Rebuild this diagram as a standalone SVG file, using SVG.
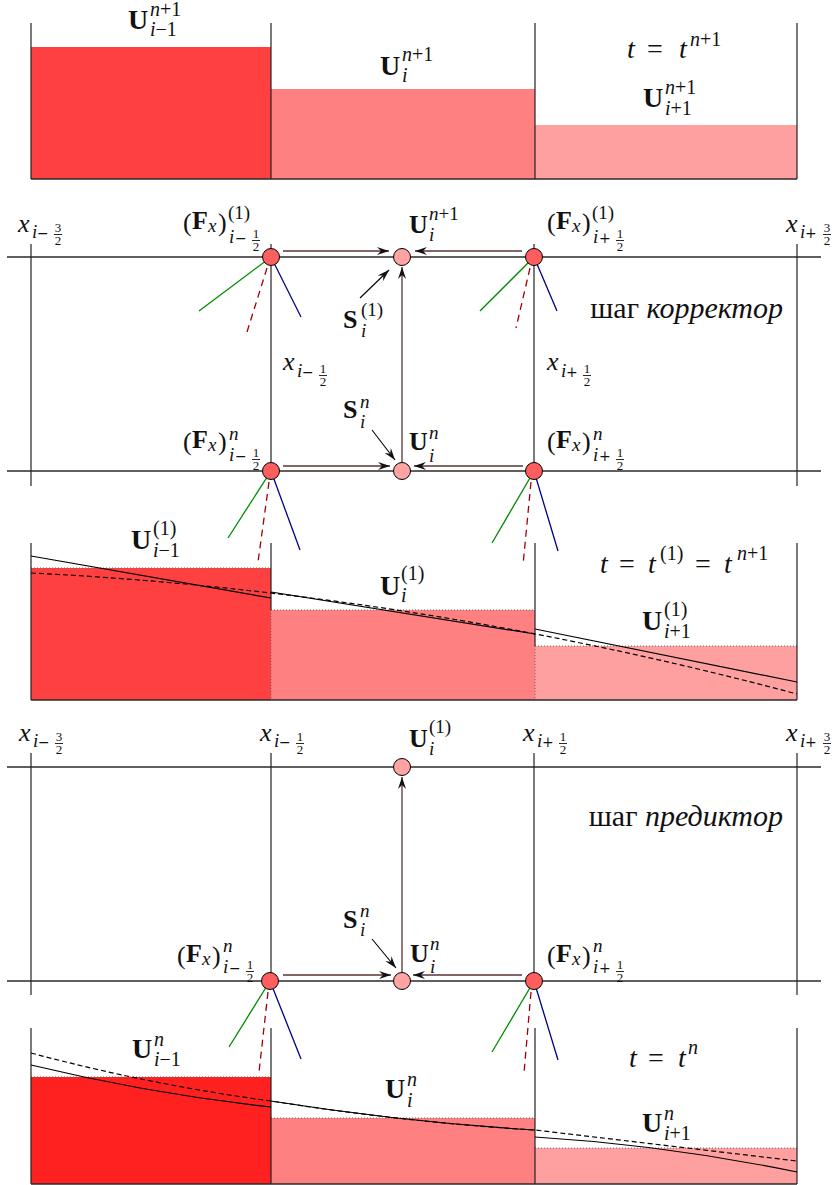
<svg xmlns="http://www.w3.org/2000/svg" width="836" height="1185" viewBox="0 0 836 1185">
<defs>
<style>
.bg{fill:#fff}
.ax{stroke:#2a2a2a;stroke-width:1.3;fill:none}
.vl{stroke:#222;stroke-width:1.2;fill:none}
.dt{stroke:#666;stroke-width:1;stroke-dasharray:1,2;fill:none}
.c1{fill:#ff4040}.c1b{fill:#ff2020}.c2{fill:#ff8080}.c3{fill:#ffa0a0}
.cur{stroke:#000;stroke-width:1.2;fill:none}
.cud{stroke:#000;stroke-width:1.2;fill:none;stroke-dasharray:5,3}
.fg{stroke:#008a00;stroke-width:1.3}
.fr{stroke:#a00000;stroke-width:1.3;stroke-dasharray:7,5}
.fb{stroke:#00008a;stroke-width:1.3}
.nf{fill:#ff5e5e;stroke:#000;stroke-width:1}
.nu{fill:#ffa3a3;stroke:#000;stroke-width:1}
.ar{stroke:#5a3434;stroke-width:1.3;fill:none}
.ak{stroke:#000;stroke-width:1.1;fill:none}
.m{font-family:"Liberation Serif",serif;font-size:26px;fill:#111}
.L{font-size:28px}
.s{font-size:19px}
.Ls{font-size:20px}
.f{font-size:13px}
.o{font-family:"DejaVu Serif",serif;font-size:14px}
.i{font-style:italic}
.b{font-weight:bold}
.cy{font-size:30px}
.fl{stroke:#111;stroke-width:0.9}
</style>
<marker id="hb" viewBox="0 0 12 8" refX="12" refY="4" markerWidth="12" markerHeight="8" markerUnits="userSpaceOnUse" orient="auto"><path d="M0,0 L12,4 L0,8 L4,4 z" fill="#111"/></marker>
</defs>
<rect class="bg" x="0" y="0" width="836" height="1185"/>

<!-- ===== Top panel t = t^{n+1} ===== -->
<g id="panel-top">
<rect class="c1" x="31" y="47" width="240" height="132"/>
<rect class="c2" x="271" y="89" width="264" height="90"/>
<rect class="c3" x="535" y="125" width="262" height="54"/>
<line class="vl" x1="31" y1="23" x2="31" y2="179"/>
<line class="vl" x1="271" y1="23" x2="271" y2="179"/>
<line class="vl" x1="535" y1="23" x2="535" y2="179"/>
<line class="vl" x1="797" y1="23" x2="797" y2="179"/>
<line class="ax" x1="31" y1="179" x2="797" y2="179"/>
<text class="m L b" x="128" y="29">U</text>
<text class="m Ls" x="150" y="16"><tspan class="i">n</tspan>+1</text>
<text class="m Ls" x="150" y="36"><tspan class="i">i</tspan>−1</text>
<text class="m L b" x="380" y="75">U</text>
<text class="m Ls" x="402" y="61"><tspan class="i">n</tspan>+1</text>
<text class="m Ls i" x="402" y="82">i</text>
<text class="m L i" x="627" y="58">t</text>
<text class="m L" x="647" y="58">=</text>
<text class="m L i" x="679" y="58">t</text>
<text class="m Ls" x="690" y="46"><tspan class="i">n</tspan>+1</text>
<text class="m L b" x="643" y="107">U</text>
<text class="m Ls" x="665" y="94"><tspan class="i">n</tspan>+1</text>
<text class="m Ls" x="665" y="115"><tspan class="i">i</tspan>+1</text>
</g>

<!-- ===== Corrector scheme ===== -->
<g id="grid-corrector">
<line class="ax" x1="7" y1="257" x2="821" y2="257"/>
<line class="ax" x1="7" y1="471" x2="821" y2="471"/>
<line class="vl" x1="31" y1="244" x2="31" y2="486"/>
<line class="vl" x1="797" y1="244" x2="797" y2="486"/>
<line class="vl" x1="271" y1="244" x2="271" y2="471"/>
<line class="vl" x1="534" y1="244" x2="534" y2="471"/>
<text class="m i" x="18" y="232">x</text>
<text class="m s i" x="32" y="238">i</text>
<text class="m o" x="37" y="238">−</text>
<text class="m f" x="58" y="232" text-anchor="middle">3</text>
<line class="fl" x1="54" y1="234.5" x2="62" y2="234.5"/>
<text class="m f" x="58" y="245" text-anchor="middle">2</text>
<text class="m i" x="786" y="232">x</text>
<text class="m s i" x="800" y="238">i</text>
<text class="m o" x="805" y="238">+</text>
<text class="m f" x="827" y="232" text-anchor="middle">3</text>
<line class="fl" x1="823" y1="234.5" x2="831" y2="234.5"/>
<text class="m f" x="827" y="245" text-anchor="middle">2</text>
<text class="m i" x="283" y="370">x</text>
<text class="m s i" x="297" y="377">i</text>
<text class="m o" x="302" y="377">−</text>
<text class="m f" x="323" y="373" text-anchor="middle">1</text>
<line class="fl" x1="319" y1="375.5" x2="327" y2="375.5"/>
<text class="m f" x="323" y="386" text-anchor="middle">2</text>
<text class="m i" x="547" y="370">x</text>
<text class="m s i" x="561" y="377">i</text>
<text class="m o" x="566" y="377">+</text>
<text class="m f" x="587" y="373" text-anchor="middle">1</text>
<line class="fl" x1="583" y1="375.5" x2="591" y2="375.5"/>
<text class="m f" x="587" y="386" text-anchor="middle">2</text>
<text class="m cy" x="783" y="318" text-anchor="end">шаг <tspan class="i">корректор</tspan></text>
</g>

<g id="fans-corrector">
<line class="fg" x1="271" y1="257" x2="199" y2="311"/>
<line class="fr" x1="267" y1="268" x2="247" y2="332"/>
<line class="fb" x1="271" y1="257" x2="301" y2="317"/>
<line class="fg" x1="534" y1="257" x2="480" y2="311"/>
<line class="fr" x1="530" y1="268" x2="516" y2="328"/>
<line class="fb" x1="534" y1="257" x2="557" y2="311"/>
<line class="fg" x1="271" y1="471" x2="228" y2="538"/>
<line class="fr" x1="269" y1="482" x2="258" y2="562"/>
<line class="fb" x1="271" y1="471" x2="300" y2="550"/>
<line class="fg" x1="534" y1="471" x2="492" y2="543"/>
<line class="fr" x1="531" y1="482" x2="523" y2="565"/>
<line class="fb" x1="534" y1="471" x2="558" y2="551"/>
</g>

<g id="connectors">
<line class="ar" x1="283" y1="251" x2="389" y2="251" marker-end="url(#hb)"/>
<line class="ar" x1="522" y1="251" x2="415" y2="251" marker-end="url(#hb)"/>
<line class="ar" x1="402" y1="462" x2="402" y2="267" marker-end="url(#hb)"/>
<line class="ak" x1="360" y1="298" x2="389" y2="270" marker-end="url(#hb)"/>
<line class="ar" x1="283" y1="466" x2="390" y2="466" marker-end="url(#hb)"/>
<line class="ar" x1="523" y1="466" x2="414" y2="466" marker-end="url(#hb)"/>
<line class="ak" x1="372" y1="430" x2="395" y2="460" marker-end="url(#hb)"/>
<line class="ar" x1="402" y1="972" x2="402" y2="777" marker-end="url(#hb)"/>
<line class="ar" x1="283" y1="975" x2="391" y2="975" marker-end="url(#hb)"/>
<line class="ar" x1="522" y1="975" x2="413" y2="975" marker-end="url(#hb)"/>
<line class="ak" x1="372" y1="939" x2="396" y2="968" marker-end="url(#hb)"/>
</g>

<g id="node-F-left-1">
<circle class="nf" cx="271" cy="257" r="8.5"/>
<text class="m" x="183" y="231">(</text>
<text class="m b" x="192" y="229">F</text>
<text class="m s i" x="208" y="232">x</text>
<text class="m" x="218" y="231">)</text>
<text class="m s" x="228" y="219">(1)</text>
<text class="m s i" x="229" y="243">i</text>
<text class="m o" x="235" y="243">−</text>
<text class="m f" x="256" y="238" text-anchor="middle">1</text>
<line class="fl" x1="252" y1="240.5" x2="260" y2="240.5"/>
<text class="m f" x="256" y="251" text-anchor="middle">2</text>
</g>
<g id="node-U-1">
<circle class="nu" cx="402" cy="257" r="8.5"/>
<text class="m b" x="409" y="233">U</text>
<text class="m s" x="429" y="220"><tspan class="i">n</tspan>+1</text>
<text class="m s i" x="429" y="241">i</text>
</g>
<g id="node-F-right-1">
<circle class="nf" cx="534" cy="257" r="8.5"/>
<text class="m" x="547" y="231">(</text>
<text class="m b" x="556" y="229">F</text>
<text class="m s i" x="572" y="232">x</text>
<text class="m" x="582" y="231">)</text>
<text class="m s" x="592" y="219">(1)</text>
<text class="m s i" x="593" y="243">i</text>
<text class="m o" x="599" y="243">+</text>
<text class="m f" x="620" y="238" text-anchor="middle">1</text>
<line class="fl" x1="616" y1="240.5" x2="624" y2="240.5"/>
<text class="m f" x="620" y="251" text-anchor="middle">2</text>
</g>
<g id="label-S-1">
<text class="m b" x="343" y="328">S</text>
<text class="m s" x="361" y="316">(1)</text>
<text class="m s i" x="361" y="337">i</text>
</g>
<g id="node-F-left-n">
<circle class="nf" cx="271" cy="471" r="8.5"/>
<text class="m" x="183" y="450">(</text>
<text class="m b" x="192" y="448">F</text>
<text class="m s i" x="208" y="451">x</text>
<text class="m" x="218" y="450">)</text>
<text class="m s i" x="229" y="440">n</text>
<text class="m s i" x="229" y="461">i</text>
<text class="m o" x="235" y="461">−</text>
<text class="m f" x="256" y="457" text-anchor="middle">1</text>
<line class="fl" x1="252" y1="459.5" x2="260" y2="459.5"/>
<text class="m f" x="256" y="470" text-anchor="middle">2</text>
</g>
<g id="node-U-n">
<circle class="nu" cx="402" cy="471" r="8.5"/>
<text class="m b" x="409" y="450">U</text>
<text class="m s i" x="429" y="439">n</text>
<text class="m s i" x="429" y="462">i</text>
</g>
<g id="node-F-right-n">
<circle class="nf" cx="534" cy="471" r="8.5"/>
<text class="m" x="547" y="450">(</text>
<text class="m b" x="556" y="448">F</text>
<text class="m s i" x="572" y="451">x</text>
<text class="m" x="582" y="450">)</text>
<text class="m s i" x="593" y="440">n</text>
<text class="m s i" x="593" y="461">i</text>
<text class="m o" x="599" y="461">+</text>
<text class="m f" x="620" y="457" text-anchor="middle">1</text>
<line class="fl" x1="616" y1="459.5" x2="624" y2="459.5"/>
<text class="m f" x="620" y="470" text-anchor="middle">2</text>
</g>
<g id="label-S-n">
<text class="m b" x="343" y="418">S</text>
<text class="m s i" x="360" y="408">n</text>
<text class="m s i" x="360" y="428">i</text>
</g>

<!-- ===== Panel t = t^(1) ===== -->
<g id="panel-mid">
<rect class="c1" x="31" y="568" width="240" height="132"/>
<rect class="c2" x="271" y="610" width="264" height="90"/>
<rect class="c3" x="535" y="646" width="262" height="54"/>
<line class="dt" x1="31" y1="568" x2="271" y2="568"/>
<line class="dt" x1="271" y1="610" x2="535" y2="610"/>
<line class="dt" x1="535" y1="646" x2="797" y2="646"/>
<line class="dt" x1="271" y1="610" x2="271" y2="700"/>
<line class="dt" x1="535" y1="646" x2="535" y2="700"/>
<line class="vl" x1="31" y1="543" x2="31" y2="700"/>
<line class="vl" x1="271" y1="543" x2="271" y2="610"/>
<line class="vl" x1="535" y1="543" x2="535" y2="646"/>
<line class="vl" x1="797" y1="543" x2="797" y2="700"/>
<line class="ax" x1="31" y1="700" x2="797" y2="700"/>
<path class="cud" d="M31,573 Q414,592 797,694"/>
<path class="cur" d="M31,556 L271,598 M271,592 L535,634 M535,629 L797,682"/>
<text class="m L b" x="131" y="549">U</text>
<text class="m Ls" x="153" y="535">(1)</text>
<text class="m Ls" x="153" y="557"><tspan class="i">i</tspan>−1</text>
<text class="m L b" x="380" y="595">U</text>
<text class="m Ls" x="401" y="580">(1)</text>
<text class="m Ls i" x="401" y="602">i</text>
<text class="m L i" x="600" y="573">t</text>
<text class="m L" x="619" y="573">=</text>
<text class="m L i" x="648" y="573">t</text>
<text class="m Ls" x="660" y="560">(1)</text>
<text class="m L" x="695" y="573">=</text>
<text class="m L i" x="724" y="573">t</text>
<text class="m Ls" x="737" y="560"><tspan class="i">n</tspan>+1</text>
<text class="m L b" x="642" y="630">U</text>
<text class="m Ls" x="664" y="616">(1)</text>
<text class="m Ls" x="664" y="638"><tspan class="i">i</tspan>+1</text>
</g>

<!-- ===== Predictor scheme ===== -->
<g id="grid-predictor">
<line class="ax" x1="7" y1="767" x2="821" y2="767"/>
<line class="ax" x1="7" y1="981" x2="821" y2="981"/>
<line class="vl" x1="31" y1="753" x2="31" y2="995"/>
<line class="vl" x1="797" y1="753" x2="797" y2="995"/>
<line class="vl" x1="271" y1="753" x2="271" y2="981"/>
<line class="vl" x1="534" y1="753" x2="534" y2="981"/>
<text class="m i" x="19" y="741">x</text>
<text class="m s i" x="33" y="747">i</text>
<text class="m o" x="38" y="747">−</text>
<text class="m f" x="59" y="741" text-anchor="middle">3</text>
<line class="fl" x1="55" y1="743.5" x2="63" y2="743.5"/>
<text class="m f" x="59" y="754" text-anchor="middle">2</text>
<text class="m i" x="260" y="741">x</text>
<text class="m s i" x="274" y="747">i</text>
<text class="m o" x="279" y="747">−</text>
<text class="m f" x="300" y="741" text-anchor="middle">1</text>
<line class="fl" x1="296" y1="743.5" x2="304" y2="743.5"/>
<text class="m f" x="300" y="754" text-anchor="middle">2</text>
<text class="m i" x="523" y="741">x</text>
<text class="m s i" x="537" y="747">i</text>
<text class="m o" x="542" y="747">+</text>
<text class="m f" x="563" y="741" text-anchor="middle">1</text>
<line class="fl" x1="559" y1="743.5" x2="567" y2="743.5"/>
<text class="m f" x="563" y="754" text-anchor="middle">2</text>
<text class="m i" x="786" y="741">x</text>
<text class="m s i" x="800" y="747">i</text>
<text class="m o" x="805" y="747">+</text>
<text class="m f" x="827" y="741" text-anchor="middle">3</text>
<line class="fl" x1="823" y1="743.5" x2="831" y2="743.5"/>
<text class="m f" x="827" y="754" text-anchor="middle">2</text>
<text class="m cy" x="783" y="826" text-anchor="end">шаг <tspan class="i">предиктор</tspan></text>
</g>

<g id="fans-predictor">
<line class="fg" x1="270" y1="981" x2="229" y2="1047"/>
<line class="fr" x1="268" y1="992" x2="259" y2="1072"/>
<line class="fb" x1="270" y1="981" x2="301" y2="1059"/>
<line class="fg" x1="534" y1="981" x2="492" y2="1052"/>
<line class="fr" x1="531" y1="992" x2="524" y2="1073"/>
<line class="fb" x1="534" y1="981" x2="558" y2="1060"/>
</g>

<g id="node-U-1-pred">
<circle class="nu" cx="402" cy="767" r="8.5"/>
<text class="m b" x="409" y="747">U</text>
<text class="m s" x="429" y="733">(1)</text>
<text class="m s i" x="429" y="755">i</text>
</g>
<g id="node-F-left-pred">
<circle class="nf" cx="270" cy="981" r="8.5"/>
<text class="m" x="177" y="964">(</text>
<text class="m b" x="186" y="962">F</text>
<text class="m s i" x="202" y="965">x</text>
<text class="m" x="212" y="964">)</text>
<text class="m s i" x="223" y="952">n</text>
<text class="m s i" x="223" y="973">i</text>
<text class="m o" x="229" y="973">−</text>
<text class="m f" x="250" y="969" text-anchor="middle">1</text>
<line class="fl" x1="246" y1="971.5" x2="254" y2="971.5"/>
<text class="m f" x="250" y="982" text-anchor="middle">2</text>
</g>
<g id="node-U-n-pred">
<circle class="nu" cx="402" cy="981" r="8.5"/>
<text class="m b" x="410" y="962">U</text>
<text class="m s i" x="430" y="950">n</text>
<text class="m s i" x="430" y="973">i</text>
</g>
<g id="node-F-right-pred">
<circle class="nf" cx="534" cy="981" r="8.5"/>
<text class="m" x="547" y="964">(</text>
<text class="m b" x="556" y="962">F</text>
<text class="m s i" x="572" y="965">x</text>
<text class="m" x="582" y="964">)</text>
<text class="m s i" x="593" y="952">n</text>
<text class="m s i" x="593" y="973">i</text>
<text class="m o" x="599" y="973">+</text>
<text class="m f" x="620" y="969" text-anchor="middle">1</text>
<line class="fl" x1="616" y1="971.5" x2="624" y2="971.5"/>
<text class="m f" x="620" y="982" text-anchor="middle">2</text>
</g>
<g id="label-S-n-pred">
<text class="m b" x="343" y="928">S</text>
<text class="m s i" x="360" y="917">n</text>
<text class="m s i" x="360" y="936">i</text>
</g>

<!-- ===== Bottom panel t = t^n ===== -->
<g id="panel-bottom">
<rect class="c1b" x="31" y="1077" width="240" height="107"/>
<rect class="c2" x="271" y="1118" width="264" height="66"/>
<rect class="c3" x="535" y="1148" width="262" height="36"/>
<line class="dt" x1="31" y1="1077" x2="271" y2="1077"/>
<line class="dt" x1="271" y1="1118" x2="535" y2="1118"/>
<line class="dt" x1="535" y1="1148" x2="797" y2="1148"/>
<line class="vl" x1="31" y1="1028" x2="31" y2="1184"/>
<line class="vl" x1="271" y1="1028" x2="271" y2="1184"/>
<line class="vl" x1="535" y1="1028" x2="535" y2="1184"/>
<line class="vl" x1="797" y1="1028" x2="797" y2="1184"/>
<line class="ax" x1="31" y1="1184" x2="797" y2="1184"/>
<path class="cud" d="M31,1053 Q151,1085 271,1101 Q403,1122 535,1130 L797,1161"/>
<path class="cur" d="M31,1065 Q151,1094 271,1107 M271,1101 Q403,1122 535,1130 M535,1137 Q666,1145 797,1172"/>
<text class="m L b" x="132" y="1058">U</text>
<text class="m Ls i" x="154" y="1046">n</text>
<text class="m Ls" x="154" y="1066"><tspan class="i">i</tspan>−1</text>
<text class="m L b" x="385" y="1098">U</text>
<text class="m Ls i" x="407" y="1086">n</text>
<text class="m Ls i" x="407" y="1107">i</text>
<text class="m L i" x="629" y="1067">t</text>
<text class="m L" x="648" y="1067">=</text>
<text class="m L i" x="678" y="1067">t</text>
<text class="m Ls i" x="688" y="1054">n</text>
<text class="m L b" x="642" y="1132">U</text>
<text class="m Ls i" x="664" y="1120">n</text>
<text class="m Ls" x="664" y="1140"><tspan class="i">i</tspan>+1</text>
</g>
</svg>
